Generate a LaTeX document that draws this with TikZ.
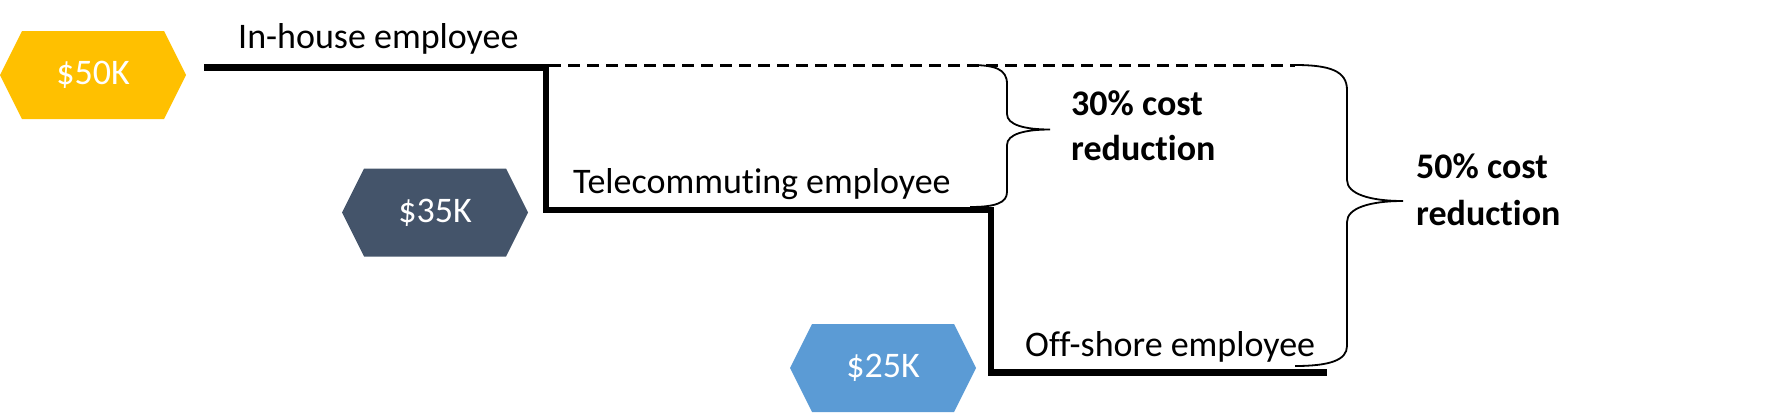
\documentclass[tikz,border=0pt]{standalone}
\usepackage{fontspec}
\setmainfont{Carlito}[Ligatures=NoCommon]
\newcommand{\tibreak}{t\kern0pt i}
\definecolor{hexgold}{HTML}{FFC000}
\definecolor{hexslate}{HTML}{44546A}
\definecolor{hexblue}{HTML}{5B9BD5}
\begin{document}
\begin{tikzpicture}[x=1pt,y=-1pt,
  hexnode/.style={minimum width=186pt, minimum height=88pt, inner sep=0pt,
    text=white, font=\fontsize{36}{40}\selectfont,
    path picture={\fill[#1] (path picture bounding box.west)
      -- ([xshift=22pt]path picture bounding box.north west)
      -- ([xshift=-22pt]path picture bounding box.north east)
      -- (path picture bounding box.east)
      -- ([xshift=-22pt]path picture bounding box.south east)
      -- ([xshift=22pt]path picture bounding box.south west) -- cycle;}},
  lbl/.style={anchor=base west, inner sep=0pt, font=\fontsize{36}{40}\selectfont},
  boldlbl/.style={lbl, font=\bfseries\fontsize{36}{40}\selectfont},
  stairline/.style={line width=6.5pt, line join=miter},
  dashline/.style={line width=3.2pt, dash pattern=on 12pt off 7pt},
  bracepath/.style={line width=1.8pt}]
\useasboundingbox (0,0) rectangle (1777,416);

% hexagon tags
\node[hexnode=hexgold] (h50) at (93,75) {\$50K};
\node[hexnode=hexslate] (h35) at (435,212.5) {\$35K};
\node[hexnode=hexblue] (h25) at (883,368) {\$25K};

% stair line
\coordinate (s0) at (204,67.5);
\coordinate (s1) at (546,67.5);
\coordinate (s2) at (546,210);
\coordinate (s3) at (991,210);
\coordinate (s4) at (991,372.5);
\coordinate (s5) at (1327,372.5);
\draw[stairline] (s0) -- (s1) -- (s2) -- (s3) -- (s4) -- (s5);

% dashed reference line
\coordinate (d1) at (1295,65.5);
\draw[dashline] (s1) ++(3,-2) -- (d1);

% labels
\node[lbl] (lin) at (238,48) {In-house employee};
\node[lbl] (ltel) at (573,193.5) {Telecommu\tibreak ng employee};
\node[lbl] (loff) at (1025,356) {Off-shore employee};

% braces
\draw[bracepath] (970,65) .. controls (995,65) and (1007,69) .. (1007,84)
  -- (1007,114) .. controls (1007,125) and (1025,129.5) .. (1050,129.5)
  .. controls (1025,129.5) and (1007,134) .. (1007,145)
  -- (1007,192) .. controls (1007,203) and (995,207) .. (970,207);
\draw[bracepath] (1295,65) .. controls (1330,65) and (1347,71) .. (1347,90)
  -- (1347,180) .. controls (1347,194) and (1370,201) .. (1403,201)
  .. controls (1370,201) and (1347,208) .. (1347,222)
  -- (1347,346) .. controls (1347,360) and (1330,366) .. (1295,366);

\node[boldlbl] (r30a) at (1071,115) {30\% cost};
\node[boldlbl] (r30b) at (1071,160) {reduc\tibreak on};
\node[boldlbl] (r50a) at (1416,178.5) {50\% cost};
\node[boldlbl] (r50b) at (1416,225) {reduc\tibreak on};
\end{tikzpicture}
\end{document}
